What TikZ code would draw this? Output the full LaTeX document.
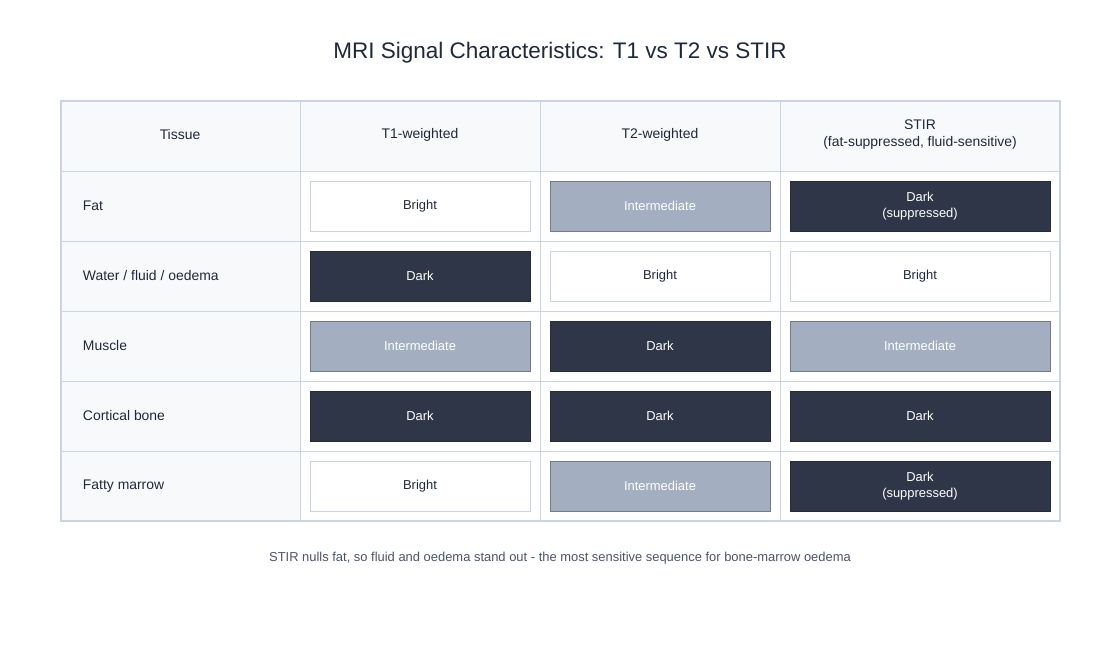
\documentclass[tikz,border=0pt]{standalone}
\usepackage{fontspec}
\setmainfont{Liberation Sans}
\usetikzlibrary{positioning}
\definecolor{ink}{HTML}{1E293B}
\definecolor{grid}{HTML}{CBD5E1}
\definecolor{headbg}{HTML}{F8F9FB}
\definecolor{darkc}{HTML}{2E3648}
\definecolor{interc}{HTML}{A3AFC0}
\definecolor{capc}{HTML}{475569}
\tikzset{
  cell/.style={minimum width=5.5cm,minimum height=1.25cm,align=center,font=\fontsize{9.2}{11}\selectfont},
  bright/.style={cell,draw=grid,fill=white,text=ink},
  inter/.style={cell,draw=interc!70!black,fill=interc,text=white},
  dark/.style={cell,draw=darkc!80!black,fill=darkc,text=white},
  hdr/.style={font=\fontsize{9.9}{12}\selectfont,text=ink,align=center}
}
\begin{document}
\begin{tikzpicture}[x=0.025cm,y=-0.025cm]
  \useasboundingbox (0,0) rectangle (1120,660);
  \node[font=\fontsize{16}{19}\selectfont,text=ink] (title) at (560,53) {MRI Signal Characteristics: T1 vs T2 vs STIR};
  % header and first column backgrounds
  \fill[headbg] (61,101) rectangle (1060,171);
  \fill[headbg] (61,171) rectangle (300,521);
  \foreach \y in {171,241,311,381,451} \draw[grid] (61,\y) -- (1060,\y);
  \foreach \x in {300,540,780} \draw[grid] (\x,101) -- (\x,521);
  \draw[grid,line width=1pt] (61,101) rectangle (1060,521);
  \node[hdr] (h0) at (180,135) {Tissue};
  \node[hdr] (h1) at (420,135) {T1-weighted};
  \node[hdr] (h2) at (660,135) {T2-weighted};
  \node[hdr] (h3) at (920,135) {STIR\\(fat-suppressed, fluid-sensitive)};
  % rows
  \foreach \i/\tis/\sa/\ta/\sb/\tb/\sc/\tc in {
      0/Fat/bright/Bright/inter/Intermediate/dark/{Dark\\(suppressed)},
      1/{Water / fluid / oedema}/dark/Dark/bright/Bright/bright/Bright,
      2/Muscle/inter/Intermediate/dark/Dark/inter/Intermediate,
      3/Cortical bone/dark/Dark/dark/Dark/dark/Dark,
      4/Fatty marrow/bright/Bright/inter/Intermediate/dark/{Dark\\(suppressed)}} {
    \pgfmathsetmacro\yc{206+70*\i}
    \node[hdr,anchor=west] (t\i) at (78,\yc) {\tis};
    \node[\sa] (a\i) at (420,\yc) {\ta};
    \node[\sb] (b\i) at (660,\yc) {\tb};
    \node[\sc,minimum width=6.5cm] (c\i) at (920,\yc) {\tc};
  }
  \node[font=\fontsize{9.2}{11}\selectfont,text=capc] (cap) at (560,558)
    {STIR nulls fat, so fluid and oedema stand out - the most sensitive sequence for bone-marrow oedema};
\end{tikzpicture}
\end{document}
